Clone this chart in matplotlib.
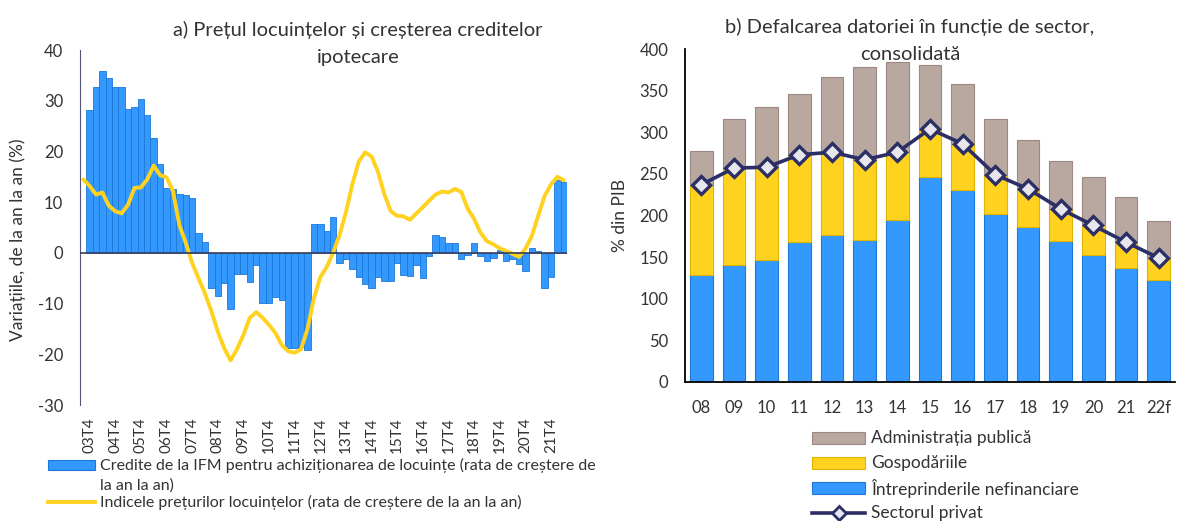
import matplotlib
matplotlib.use('Agg')
import numpy as np
import matplotlib.pyplot as plt
from matplotlib.patches import Rectangle
from matplotlib.lines import Line2D

plt.rcParams['font.family'] = ['Lato', 'DejaVu Sans']
plt.rcParams['axes.unicode_minus'] = False

# --- panel a: quarterly data, 03T3 .. 22T2 (first bar missing) ---
credit_growth = [np.nan,
                 28.1, 32.8, 35.9, 34.4, 32.7, 32.7, 28.3, 28.7, 30.3, 27.1,
                 22.7, 17.6, 12.7, 12.5, 11.7, 11.5, 10.8, 4.0, 2.2,
                 -7.0, -8.6, -6.0, -11.1, -4.2, -4.2, -5.8, -2.4, -9.9, -9.9,
                 -8.8, -9.3, -18.7, -18.7, -18.6, -19.1,
                 5.7, 5.7, 4.4, 7.0,
                 -2.0, -1.2, -3.2, -4.7, -6.2, -7.0,
                 -4.7, -5.5, -5.5, -2.0, -4.3, -4.5, -2.3, -4.9, -0.6,
                 3.5, 3.2, 2.0, 2.0, -1.2, -0.4,
                 2.0, -0.6, -1.7, -1.0, 0.6, -1.7, -1.3, -2.2, -3.6, 1.0, 0.3,
                 -7.0, -4.8, 14.3, 13.9]

hpi_growth = [14.5, 13.2, 11.5, 11.9, 9.3, 8.2, 7.8, 9.5, 12.8, 12.9,
              14.5, 17.2, 15.3, 14.9, 12.2, 5.5, 2.0, -2.0, -5.0, -8.0,
              -11.5, -15.5, -18.8, -21.2, -19.0, -16.2, -12.8, -11.7, -12.8, -14.2,
              -15.8, -18.2, -19.4, -19.7, -19.0, -15.0, -9.0, -4.8, -2.8, 0.0,
              3.5, 8.0, 13.5, 18.0, 19.8, 19.0, 16.0, 11.5, 8.2, 7.3,
              7.2, 6.5, 7.8, 9.0, 10.3, 11.5, 12.1, 11.9, 12.6, 12.0,
              8.7, 6.7, 4.0, 2.3, 1.7, 0.9, 0.4, -0.2, -0.8, 0.8,
              3.3, 7.3, 11.2, 13.5, 15.0, 14.3]

quarter_ticks = ['03T4', '04T4', '05T4', '06T4', '07T4', '08T4', '09T4', '10T4',
                 '11T4', '12T4', '13T4', '14T4', '15T4', '16T4', '17T4', '18T4',
                 '19T4', '20T4', '21T4']

# --- panel b: annual debt by sector, % of GDP ---
years = ['08', '09', '10', '11', '12', '13', '14', '15', '16', '17', '18',
         '19', '20', '21', '22f']
nfc = [129, 141, 147, 168, 176, 171, 194, 246, 231, 202, 186, 169, 152, 137, 123]
households = [108, 116, 111, 105, 100, 96, 82, 58, 55, 47, 46, 39, 36, 31, 26]
government = [41, 59, 72, 73, 90, 111, 108, 77, 72, 67, 59, 58, 58, 54, 44]
private_sector = [237, 257, 258, 273, 276, 267, 276, 304, 286, 249, 232, 208,
                  188, 168, 149]

BLUE = '#3399FF'
BLUE_EDGE = '#1C78D6'
YELLOW = '#FFD21F'
YELLOW_EDGE = '#E2B400'
GREY = '#B8A8A0'
GREY_EDGE = '#9C8880'
NAVY = '#2C2F66'
TXT = '#333333'

W, H = 1180, 521
fig = plt.figure(figsize=(W / 100, H / 100), dpi=100)


def fx(px):
    return px / W


def fy(py):
    return 1 - py / H


# ---------------- panel a ----------------
ax1 = fig.add_axes([fx(80), fy(405), fx(487), 355 / H])
xq = np.arange(len(hpi_growth))
ax1.bar(xq, credit_growth, width=1.0, color=BLUE, edgecolor=BLUE_EDGE,
        linewidth=0.6, zorder=2)
ax1.plot(xq, hpi_growth, color=YELLOW, lw=2.8, solid_capstyle='round',
         zorder=3)
ax1.axhline(0, color='#3C3C5A', lw=1.2, zorder=4)
ax1.set_xlim(-0.5, len(xq) - 0.5)
ax1.set_ylim(-30, 40)
ax1.set_yticks(range(-30, 41, 10))
ax1.set_xticks([1 + 4 * i for i in range(len(quarter_ticks))])
ax1.set_xticklabels(quarter_ticks, rotation=90)
for s in ['top', 'right', 'bottom']:
    ax1.spines[s].set_visible(False)
ax1.spines['left'].set_color('#55557A')
ax1.tick_params(axis='y', length=0, pad=12, labelsize=12, labelcolor=TXT)
ax1.tick_params(axis='x', length=0, pad=9, labelsize=11, labelcolor=TXT)

fig.text(fx(358), fy(30), 'a) Prețul locuințelor și creșterea creditelor',
         ha='center', va='center', fontsize=14.5, color=TXT)
fig.text(fx(358), fy(57), 'ipotecare', ha='center', va='center',
         fontsize=14.5, color=TXT)
fig.text(fx(18), fy(240), 'Variațiile, de la an la an (%)', rotation=90,
         ha='center', va='center', fontsize=12.5, color=TXT)

# legend a
fig.patches.append(Rectangle((fx(48), fy(470)), fx(47), 10 / H,
                             transform=fig.transFigure, facecolor=BLUE,
                             edgecolor=BLUE_EDGE, lw=0.8))
fig.text(fx(100), fy(465),
         'Credite de la IFM pentru achiziționarea de locuințe (rata de creștere de',
         va='center', fontsize=11.5, color=TXT)
fig.text(fx(100), fy(486), 'la an la an)', va='center', fontsize=11.5,
         color=TXT)
fig.add_artist(Line2D([fx(48), fx(95)], [fy(502), fy(502)], color=YELLOW,
                      lw=2.8, transform=fig.transFigure))
fig.text(fx(100), fy(502),
         'Indicele prețurilor locuințelor (rata de creștere de la an la an)',
         va='center', fontsize=11.5, color=TXT)

# ---------------- panel b ----------------
ax2 = fig.add_axes([fx(685), fy(382), fx(490), 333 / H])
xy = np.arange(len(years))
bw = 0.7
ax2.bar(xy, nfc, width=bw, color=BLUE, edgecolor=BLUE_EDGE, lw=0.8, zorder=2)
ax2.bar(xy, households, width=bw, bottom=nfc, color=YELLOW,
        edgecolor=YELLOW_EDGE, lw=0.8, zorder=2)
ax2.bar(xy, government, width=bw, bottom=np.add(nfc, households), color=GREY,
        edgecolor=GREY_EDGE, lw=0.8, zorder=2)
ax2.plot(xy, private_sector, color=NAVY, lw=2.6, marker='D', markersize=9,
         markerfacecolor='#E6E6EC', markeredgecolor=NAVY, markeredgewidth=2.4,
         zorder=4)
ax2.set_xlim(-0.5, len(years) - 0.5)
ax2.set_ylim(0, 400)
ax2.set_yticks(range(0, 401, 50))
ax2.set_xticks(xy)
ax2.set_xticklabels(years)
for s in ['top', 'right']:
    ax2.spines[s].set_visible(False)
for s in ['left', 'bottom']:
    ax2.spines[s].set_color('black')
    ax2.spines[s].set_linewidth(1.3)
ax2.tick_params(axis='y', length=0, pad=12, labelsize=12, labelcolor=TXT)
ax2.tick_params(axis='x', length=0, pad=13, labelsize=12, labelcolor=TXT)

fig.text(fx(910), fy(27), 'b) Defalcarea datoriei în funcție de sector,',
         ha='center', va='center', fontsize=14.5, color=TXT)
fig.text(fx(910), fy(54), 'consolidată', ha='center', va='center',
         fontsize=14.5, color=TXT)
fig.text(fx(620), fy(215), '% din PIB', rotation=90, ha='center',
         va='center', fontsize=12.5, color=TXT)

# legend b
leg_b = [('Administrația publică', GREY, GREY_EDGE, 438),
         ('Gospodăriile', YELLOW, YELLOW_EDGE, 463),
         ('Întreprinderile nefinanciare', BLUE, BLUE_EDGE, 488)]
for label, fc, ec, yy in leg_b:
    fig.patches.append(Rectangle((fx(812), fy(yy + 6)), fx(53), 12 / H,
                                 transform=fig.transFigure, facecolor=fc,
                                 edgecolor=ec, lw=0.8))
    fig.text(fx(871), fy(yy), label, va='center', fontsize=12.5, color=TXT)
fig.add_artist(Line2D([fx(812), fx(865)], [fy(513), fy(513)], color=NAVY,
                      lw=2.6, transform=fig.transFigure))
fig.add_artist(Line2D([fx(838.5)], [fy(513)], color=NAVY, marker='D',
                      markersize=7, markerfacecolor='#E6E6EC',
                      markeredgecolor=NAVY, markeredgewidth=2,
                      transform=fig.transFigure))
fig.text(fx(871), fy(513), 'Sectorul privat', va='center', fontsize=12.5,
         color=TXT)

fig.savefig('out.png', dpi=100)
